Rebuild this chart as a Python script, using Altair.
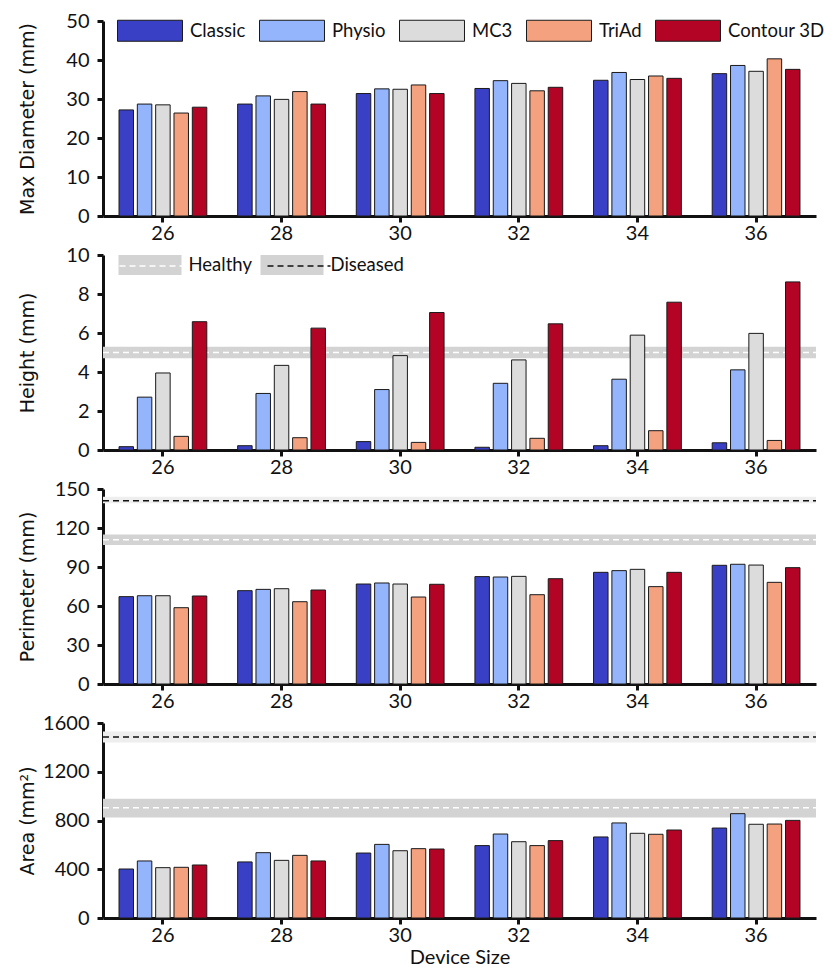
import altair as alt
import pandas as pd

sizes = ["26", "28", "30", "32", "34", "36"]
devices = ["Classic", "Physio", "MC3", "TriAd", "Contour 3D"]
colors = ["#3a40c6", "#94b4fc", "#dcdcdc", "#f4a17f", "#b40426"]

max_diameter = {
    "Classic": [27.2, 28.7, 31.4, 32.7, 34.8, 36.5],
    "Physio": [28.7, 30.8, 32.6, 34.7, 36.8, 38.6],
    "MC3": [28.5, 29.9, 32.5, 34.0, 35.0, 37.1],
    "TriAd": [26.4, 31.9, 33.6, 32.1, 35.9, 40.3],
    "Contour 3D": [27.9, 28.7, 31.4, 33.0, 35.3, 37.6],
}
height = {
    "Classic": [0.17, 0.22, 0.43, 0.14, 0.22, 0.37],
    "Physio": [2.71, 2.90, 3.10, 3.42, 3.63, 4.11],
    "MC3": [3.95, 4.34, 4.84, 4.62, 5.89, 5.98],
    "TriAd": [0.70, 0.63, 0.39, 0.60, 0.99, 0.49],
    "Contour 3D": [6.58, 6.25, 7.05, 6.47, 7.58, 8.62],
}
perimeter = {
    "Classic": [67.2, 71.8, 76.9, 82.6, 85.9, 91.3],
    "Physio": [67.9, 72.8, 77.7, 82.3, 87.2, 92.1],
    "MC3": [67.9, 73.3, 76.9, 82.8, 88.2, 91.5],
    "TriAd": [58.7, 63.3, 66.9, 68.7, 74.9, 78.2],
    "Contour 3D": [67.7, 72.3, 76.7, 81.0, 85.9, 89.5],
}
area = {
    "Classic": [402, 460, 533, 594, 665, 738],
    "Physio": [468, 536, 604, 689, 780, 856],
    "MC3": [413, 473, 552, 626, 695, 769],
    "TriAd": [416, 514, 569, 594, 687, 771],
    "Contour 3D": [435, 468, 566, 635, 722, 801],
}

ref_status = ["Healthy", "Diseased"]
height_ref = {"status": ["Healthy"], "value": [5.0], "lo": [4.7], "hi": [5.3]}
perimeter_ref = {"status": ["Healthy", "Diseased"], "value": [111, 141], "lo": [107, 139], "hi": [115, 144]}
area_ref = {"status": ["Healthy", "Diseased"], "value": [904, 1485], "lo": [825, 1440], "hi": [978, 1530]}

W, H = 713, 195
INK = "#111111"
BOX1 = "M-3.095,-1H3.095V1H-3.095Z"   # 65 x 21 box at symbolSize 441
BOX2 = "M-3.15,-1H3.15V1H-3.15Z"      # 63 x 20 box at symbolSize 400
LINE2 = "M-3.15,0H3.15"               # 63 px line at symbolSize 400


def long_df(values):
    rows = []
    for d in devices:
        for s, v in zip(sizes, values[d]):
            rows.append({"size": s, "device": d, "value": v})
    return pd.DataFrame(rows)


def yaxis(ymax, step, title):
    return alt.Axis(values=list(range(0, ymax + 1, step)), format="d", title=title,
                    titleFont="DejaVu Sans", titleFontSize=19, titleFontWeight="normal", titleColor=INK,
                    titleX=-76, titleY=H / 2, titleAngle=270, titleAlign="center",
                    titleBaseline="middle",
                    labelFont="Lato", labelFontSize=20, labelColor=INK, labelPadding=8,
                    tickSize=6, tickWidth=3, tickColor=INK, domainWidth=3, domainColor=INK,
                    grid=False)


def panel(values, ymax, step, title, bar_legend=False, ref=None, fill_range=None,
          ref_legend=False, xtitle=False):
    yscale = alt.Scale(domain=[0, ymax], nice=False)
    yax = yaxis(ymax, step, title)
    xaxis_kwargs = dict(labelAngle=0, labelFont="Lato", labelFontSize=20, labelColor=INK,
                        tickSize=6, tickWidth=3, tickColor=INK, domainWidth=3, domainColor=INK,
                        labelPadding=1)
    if xtitle:
        xaxis = alt.Axis(title="Device Size", titleFont="Lato", titleFontSize=20,
                         titleFontWeight="normal", titleColor=INK, titlePadding=2, **xaxis_kwargs)
    else:
        xaxis = alt.Axis(title=None, **xaxis_kwargs)
    if bar_legend:
        leg = alt.Legend(orient="none", legendX=36, legendY=-1.5, direction="horizontal", title=None,
                         symbolType=BOX1, symbolSize=441, symbolStrokeColor="#1a1a1a",
                         symbolStrokeWidth=1, symbolOpacity=1, labelFont="Lato", labelFontSize=18.5,
                         labelColor=INK, labelOffset=29, columnPadding=11)
    else:
        leg = None
    bars = alt.Chart(long_df(values)).mark_bar(stroke="#1a1a1a", strokeWidth=1).encode(
        x=alt.X("size:N", sort=sizes, scale=alt.Scale(paddingInner=0.26, paddingOuter=0.135), axis=xaxis),
        xOffset=alt.XOffset("device:N", sort=devices, scale=alt.Scale(domain=devices, paddingInner=0.21)),
        y=alt.Y("value:Q", scale=yscale, axis=yax),
        color=alt.Color("device:N", sort=devices, scale=alt.Scale(domain=devices, range=colors), legend=leg),
    )
    if ref is None:
        return bars.properties(width=W, height=H)
    rdf = pd.DataFrame(ref)
    if ref_legend:
        fleg = alt.Legend(orient="none", legendX=37, legendY=0, direction="horizontal", title=None,
                          symbolType=BOX2, symbolSize=400, symbolStrokeWidth=0, symbolOpacity=1,
                          labelFont="Lato", labelFontSize=18.5, labelColor=INK, labelOffset=28.5,
                          columnPadding=8)
        sleg = alt.Legend(orient="none", legendX=37, legendY=0, direction="horizontal", title=None,
                          symbolType=LINE2, symbolSize=400, symbolStrokeWidth=1.5,
                          symbolDash=[6, 4], labelExpr="''", labelFontSize=1, labelOffset=0,
                          columnPadding=78)
    else:
        fleg = None
        sleg = None
    bands = alt.Chart(rdf).mark_rect().encode(
        x=alt.value(0), x2=alt.value(W),
        y=alt.Y("lo:Q", scale=yscale, axis=yax), y2="hi:Q",
        fill=alt.Fill("status:N", scale=alt.Scale(domain=ref_status, range=fill_range), legend=fleg),
    )
    lines = alt.Chart(rdf).mark_rule(strokeDash=[6, 4], strokeWidth=1.5).encode(
        x=alt.value(0), x2=alt.value(W),
        y=alt.Y("value:Q", scale=yscale, axis=yax),
        stroke=alt.Stroke("status:N", scale=alt.Scale(domain=ref_status, range=["#ffffff", "#111111"]),
                          legend=sleg),
    )
    return alt.layer(bands, lines, bars).properties(width=W, height=H).resolve_scale(
        fill="independent", stroke="independent")


p1 = panel(max_diameter, 50, 10, "Max Diameter (mm)", bar_legend=True)
p2 = panel(height, 10, 2, "Height (mm)", ref=height_ref, fill_range=["#d3d3d3", "#d3d3d3"], ref_legend=True)
p3 = panel(perimeter, 150, 30, "Perimeter (mm)", ref=perimeter_ref, fill_range=["#d3d3d3", "#eeeeee"])
p4 = panel(area, 1600, 400, "Area (mm²)", ref=area_ref, fill_range=["#d3d3d3", "#eeeeee"], xtitle=True)

chart = alt.vconcat(p1, p2, p3, p4, spacing=39, bounds="flush").resolve_scale(
    x="independent", y="independent", color="independent", fill="independent", stroke="independent"
).resolve_legend(color="independent", fill="independent", stroke="independent").properties(
    padding={"left": 10, "top": 3, "right": 0, "bottom": 0}
).configure_view(stroke=None)

chart.save("out.html", embed_options={"renderer": "svg", "actions": False})
